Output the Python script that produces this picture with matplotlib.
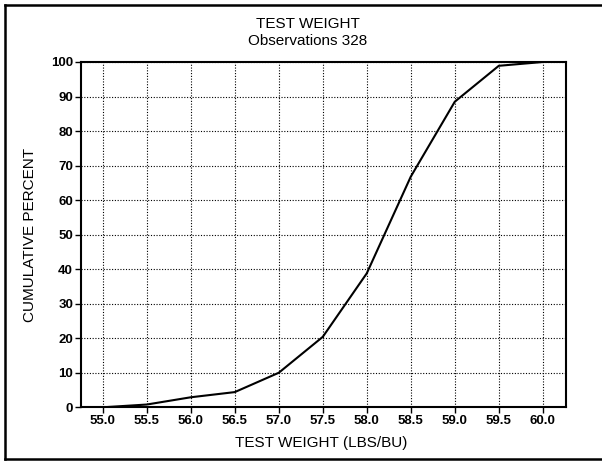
"""Test weight cumulative distribution: cumulative percent vs test weight (lbs/bu)."""
import matplotlib
matplotlib.use("Agg")
import matplotlib.pyplot as plt
from matplotlib.lines import Line2D

plt.rcParams["font.family"] = ["Liberation Sans", "DejaVu Sans"]

# cumulative distribution
TEST_WEIGHT = [55.0, 55.5, 56.0, 56.5, 57.0, 57.5, 58.0, 58.5, 59.0, 59.5, 60.0]
CUM_PERCENT = [0.0, 0.8, 2.9, 4.4, 10.0, 20.4, 38.8, 66.8, 88.5, 98.9, 100.0]
X_TICKS = [55.0, 55.5, 56.0, 56.5, 57.0, 57.5, 58.0, 58.5, 59.0, 59.5, 60.0]
Y_TICKS = [0, 10, 20, 30, 40, 50, 60, 70, 80, 90, 100]
N_OBS = 328

W, H = 602, 461
fig = plt.figure(figsize=(W / 100, H / 100), dpi=100)
ax = fig.add_axes([80.7 / W, 1 - 407.3 / H, 485 / W, 345.3 / H])

ax.plot(TEST_WEIGHT, CUM_PERCENT, color="black", lw=1.5, solid_joinstyle="miter")

ax.set_xlim(54.75, 60.26)
ax.set_ylim(0, 100)
ax.set_xticks(X_TICKS)
ax.set_xticklabels([f"{v:.1f}" for v in X_TICKS])
ax.set_yticks(Y_TICKS)
ax.tick_params(direction="out", length=4, width=1, pad=1.5, colors="black",
               labelsize=9.5)
for lab in ax.get_xticklabels() + ax.get_yticklabels():
    lab.set_fontweight("bold")

ax.grid(True, color="black", linestyle=(0, (1, 1.5)), linewidth=0.8)
for sp in ax.spines.values():
    sp.set_linewidth(1.5)

ax.set_xlabel("TEST WEIGHT (LBS/BU)", fontsize=11)
ax.set_ylabel("CUMULATIVE PERCENT", fontsize=11)
ax.xaxis.set_label_coords(0.495, -0.083)
ax.yaxis.set_label_coords(-0.09, 0.5)

fig.text(308 / W, 1 - 28.3 / H, "TEST WEIGHT", ha="center", va="baseline", fontsize=11)
fig.text(308 / W, 1 - 45 / H, f"Observations {N_OBS}", ha="center", va="baseline",
         fontsize=11)

# outer frame (left, top, bottom edges; right edge sits past the image)
fx0, fy0, fy1 = 5 / W, 1 - 5 / H, 1 - 458.5 / H
for xs, ys in [([fx0, fx0], [fy1, fy0]), ([fx0, 1.0], [fy0, fy0]), ([fx0, 1.0], [fy1, fy1])]:
    fig.add_artist(Line2D(xs, ys, color="black", lw=1.8, transform=fig.transFigure))

fig.savefig("out.png", dpi=100)
